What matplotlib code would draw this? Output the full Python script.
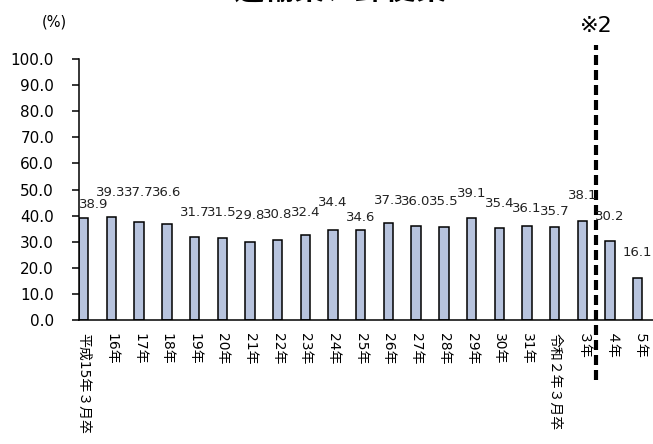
import matplotlib
matplotlib.use('Agg')
import matplotlib.pyplot as plt

plt.rcParams['font.family'] = ['DejaVu Sans', 'Noto Sans CJK JP']

years = ['平成15年３月卒', '16年', '17年', '18年', '19年', '20年', '21年',
         '22年', '23年', '24年', '25年', '26年', '27年', '28年', '29年',
         '30年', '31年', '令和２年３月卒', '３年', '４年', '５年']
rates = [38.9, 39.3, 37.7, 36.6, 31.7, 31.5, 29.8, 30.8, 32.4, 34.4, 34.6,
         37.3, 36.0, 35.5, 39.1, 35.4, 36.1, 35.7, 38.1, 30.2, 16.1]
yticks = [0, 10, 20, 30, 40, 50, 60, 70, 80, 90, 100]

# label offsets (points from bar top to label centre), staggered so
# neighbouring labels don't collide
label_dy = [9.7, 17.6, 20.6, 22.7, 17.5, 17.9, 18.9, 18.4, 16.8, 19.6, 9.1,
            15.6, 18.0, 18.9, 17.9, 17.7, 12.8, 10.7, 17.7, 18.1, 18.0]
label_dx = [7.5, -0.5, 0, 0, 0, 0, 0, 0, 0, 0, 0,
            0, 0, 0, 0, 0, 0, 0, 0, 0, 0]

fig = plt.figure(figsize=(6.53, 4.44), dpi=100)
ax = fig.add_axes([79 / 653, 124 / 444, 574 / 653, 261 / 444])

x = list(range(len(years)))
ax.bar(x, rates, width=0.34, color='#b7c3dd', edgecolor='black', linewidth=1.1)

for i, v in enumerate(rates):
    ax.annotate(f'{v:.1f}', (i, v), xytext=(label_dx[i], label_dy[i]),
                textcoords='offset points', ha='center', va='center',
                fontsize=9.5, color='#222222')

ax.set_xlim(-0.17, 20.55)
ax.set_ylim(0, 100)
ax.set_yticks(yticks)
ax.set_yticklabels([f'{t:.1f}' for t in yticks], fontsize=11)
ax.set_xticks(x)
ax.set_xticklabels(years, rotation=-90, fontsize=10, va='top', ha='center')
ax.tick_params(axis='x', length=0, pad=9)
ax.tick_params(axis='y', length=5, width=1.1, direction='out', pad=13)

for s in ['top', 'right']:
    ax.spines[s].set_visible(False)
for s in ['left', 'bottom']:
    ax.spines[s].set_linewidth(1.1)

# boundary marker between 令和３年 and ４年
ax.axvline(18.5, ymin=-0.23, ymax=1.054, color='black', linewidth=3,
           linestyle=(0, (2.4, 1.2)), clip_on=False)
ax.text(18.5, 1.125, '※2', transform=ax.get_xaxis_transform(),
        ha='center', va='center', fontsize=16)

fig.text(54 / 653, 1 - 22 / 444, '(%)', ha='center', va='center', fontsize=10.5)
fig.text(340 / 653, 1 - 5 / 444, '運輸業、郵便業', ha='center', va='bottom',
         fontsize=22, fontweight='bold')

fig.savefig('out.png', dpi=100)
